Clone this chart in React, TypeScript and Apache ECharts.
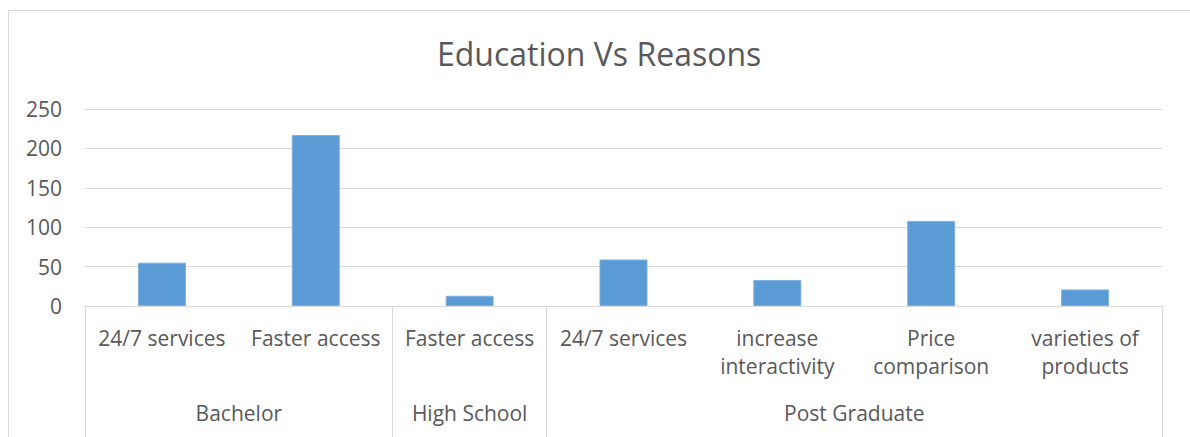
import React, { useEffect, useRef } from "react";
import * as echarts from "echarts";

const reasons = [
  "24/7 services",
  "Faster access",
  "Faster access",
  "24/7 services",
  "increase\ninteractivity",
  "Price\ncomparison",
  "varieties of\nproducts",
];
const counts = [55, 217, 13, 59, 33, 108, 21];
const groupNames = ["Bachelor", "High School", "Post Graduate"];
const groupSizes = [2, 1, 4];
const yTicks = [0, 50, 100, 150, 200, 250];

const TEXT = "#595959";
const LINE = "#D9D9D9";
const FONT = "'Open Sans', sans-serif";

export default function App() {
  const ref = useRef<HTMLDivElement>(null);
  useEffect(() => {
    if (!ref.current) return;
    const chart = echarts.init(ref.current, null, { renderer: "svg" });

    // half-slot axis: 2 slots per category, boundaryGap false
    const slots: string[] = new Array(reasons.length * 2 + 1).fill("");
    const boundaries: number[] = [0];
    let acc = 0;
    groupNames.forEach((g, i) => {
      slots[acc * 2 + groupSizes[i]] = g;
      acc += groupSizes[i];
      boundaries.push(acc * 2);
    });

    chart.setOption({
      animation: false,
      title: {
        text: "Education Vs Reasons",
        left: 432,
        top: 32,
        textStyle: { color: TEXT, fontFamily: FONT, fontSize: 32, fontWeight: "normal" },
      },
      graphic: [
        {
          type: "rect",
          shape: { x: 8.5, y: 10.5, width: 1400, height: 600 },
          style: { fill: "none", stroke: LINE, lineWidth: 1 },
          silent: true,
        },
      ],
      grid: { left: 85, right: 28, top: 109, bottom: 131 },
      xAxis: [
        {
          type: "category",
          data: reasons,
          axisLine: { show: true, lineStyle: { color: LINE, width: 1 } },
          axisTick: { show: false },
          axisLabel: {
            interval: 0,
            margin: 18,
            color: TEXT,
            fontFamily: FONT,
            fontSize: 21,
            lineHeight: 28,
          },
          splitLine: { show: false },
        },
        {
          type: "category",
          position: "bottom",
          boundaryGap: false,
          data: slots,
          axisLine: { show: false },
          axisTick: {
            show: true,
            interval: (i: number) => boundaries.includes(i),
            length: 140,
            lineStyle: { color: LINE, width: 1 },
          },
          axisLabel: {
            interval: 0,
            margin: 93,
            color: TEXT,
            fontFamily: FONT,
            fontSize: 21,
            lineHeight: 28,
          },
        },
      ],
      yAxis: {
        type: "value",
        min: yTicks[0],
        max: yTicks[yTicks.length - 1],
        interval: 50,
        axisLine: { show: false },
        axisTick: { show: false },
        axisLabel: { color: TEXT, fontFamily: FONT, fontSize: 21, margin: 23 },
        splitLine: { lineStyle: { color: LINE, width: 1 } },
      },
      series: [
        {
          type: "bar",
          xAxisIndex: 0,
          data: counts,
          barWidth: 48,
          itemStyle: { color: "#5B9BD5", borderColor: "#7FB0DE", borderWidth: 1 },
        },
      ],
    });
    return () => chart.dispose();
  }, []);
  return (
    <div
      ref={ref}
      style={{ position: "fixed", left: 0, top: 0, width: 1190, height: 437, background: "#fff" }}
    />
  );
}
